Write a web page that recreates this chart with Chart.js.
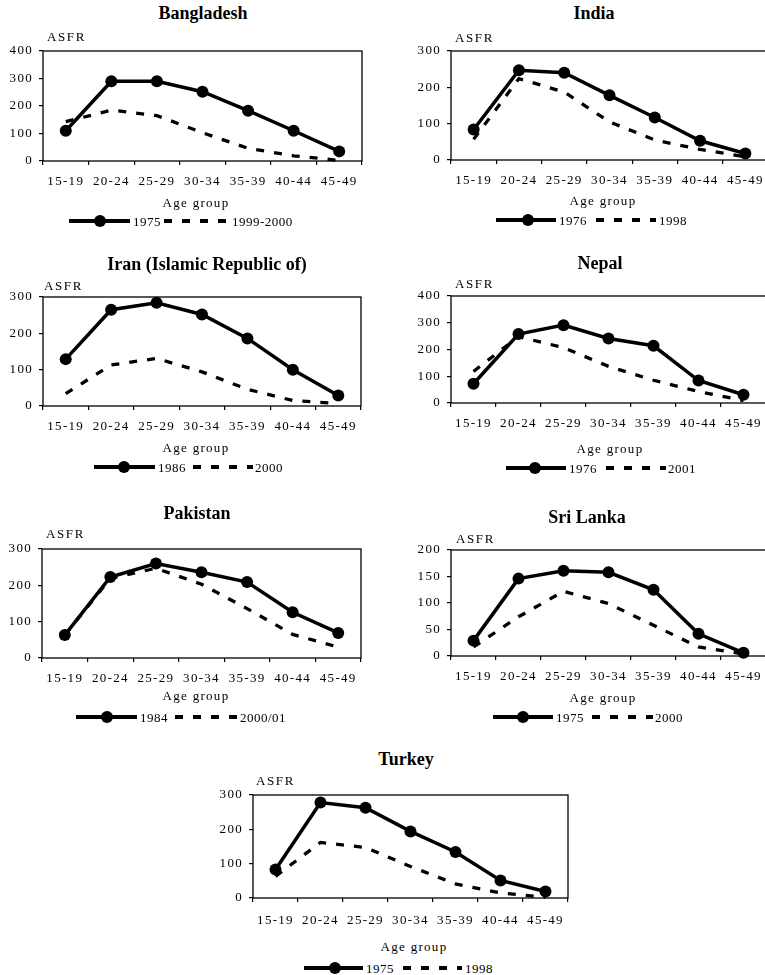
<!DOCTYPE html>
<html><head><meta charset="utf-8">
<script src="https://cdn.jsdelivr.net/npm/chart.js@4.4.0/dist/chart.umd.min.js"></script>
<style>
html,body{margin:0;padding:0;background:#fff;}
body{width:765px;height:975px;position:relative;overflow:hidden;font-family:"Liberation Serif","Times New Roman",serif;color:#000;}
.c{position:absolute;white-space:nowrap;transform:translate(-50%,-50%);line-height:1;}
.title{font-weight:bold;font-size:18px;}
.age{font-size:13px;letter-spacing:1.3px;}
.lt{position:absolute;white-space:nowrap;transform:translateY(-50%);line-height:1;font-size:13px;letter-spacing:0.5px;}
.asfr{position:absolute;white-space:nowrap;transform:translateY(-50%);line-height:1;font-size:13px;letter-spacing:1.6px;}
.solid{position:absolute;height:4px;background:#000;transform:translateY(-50%);}
.dot{position:absolute;width:12px;height:12px;border-radius:50%;background:#000;transform:translate(-50%,-50%);}
.dash{position:absolute;height:4px;background:repeating-linear-gradient(to right,#000 0 8px,transparent 8px 18px);transform:translateY(-50%);}
canvas{position:absolute;}
</style>
</head>
<body>
<script>
// ---- data ----
const categories = ['15-19','20-24','25-29','30-34','35-39','40-44','45-49'];

const bangladesh1975 = [110, 290, 290, 252, 183, 110, 35];
const bangladesh1999 = [143, 185, 165, 103, 46, 19, 2];

const india1976 = [84, 247, 240, 178, 117, 53, 18];
const india1998 = [57, 224, 187, 105, 55, 29, 9];

const iran1986 = [129, 265, 284, 252, 186, 100, 29];
const iran2000 = [34, 113, 131, 94, 46, 15, 7];

const nepal1976 = [72, 258, 291, 241, 214, 84, 31];
const nepal2001 = [118, 248, 207, 137, 85, 43, 9];

const pakistan1984 = [63, 223, 260, 236, 209, 126, 69];
const pakistan2000 = [63, 219, 247, 203, 136, 65, 30];

const srilanka1975 = [29, 146, 161, 158, 125, 42, 6];
const srilanka2000 = [17, 74, 122, 99, 58, 17, 4];

const turkey1975 = [83, 278, 263, 194, 134, 51, 19];
const turkey1998 = [63, 162, 147, 92, 41, 15, 2];

const yTicks300 = [0, 100, 200, 300];
const yTicks400 = [0, 100, 200, 300, 400];
const yTicks200 = [0, 50, 100, 150, 200];

// ---- layout ----
const panels = [
  {title:'Bangladesh', yearA:'1975', yearB:'1999-2000', a:bangladesh1975, b:bangladesh1999, ticks:yTicks400,
   L:43,R:362,T:51,B:161, tx:203,ty:13, ax:47,ay:36, gx:196,gy:202, ly:221, s0:69,s1:130,dot:100,ta:133,d0:164,d1:228,tb:232, lp:9},
  {title:'India', yearA:'1976', yearB:'1998', a:india1976, b:india1998, ticks:yTicks300,
   L:451,R:768,T:51,B:160, tx:594,ty:13, ax:455,ay:37, gx:603,gy:200, ly:220, s0:496,s1:556,dot:528,ta:559,d0:596,d1:656,tb:659, lp:9},
  {title:'Iran (Islamic Republic of)', yearA:'1986', yearB:'2000', a:iran1986, b:iran2000, ticks:yTicks300,
   L:43,R:361,T:297,B:406, tx:207,ty:264, ax:44,ay:285, gx:196,gy:447, ly:467, s0:94,s1:155,dot:124,ta:158,d0:193,d1:253,tb:255, lp:9},
  {title:'Nepal', yearA:'1976', yearB:'2001', a:nepal1976, b:nepal2001, ticks:yTicks400,
   L:451,R:766,T:296,B:403, tx:600,ty:263, ax:455,ay:283, gx:610,gy:448, ly:468, s0:506,s1:566,dot:535,ta:569,d0:606,d1:666,tb:668, lp:9},
  {title:'Pakistan', yearA:'1984', yearB:'2000/01', a:pakistan1984, b:pakistan2000, ticks:yTicks300,
   L:42,R:361,T:549,B:658, tx:197,ty:513, ax:46,ay:533, gx:196,gy:695, ly:717, s0:76,s1:137,dot:107,ta:140,d0:175,d1:237,tb:240, lp:9},
  {title:'Sri Lanka', yearA:'1975', yearB:'2000', a:srilanka1975, b:srilanka2000, ticks:yTicks200,
   L:451,R:766,T:550,B:656, tx:587,ty:517, ax:456,ay:538, gx:603,gy:697, ly:717, s0:493,s1:553,dot:523,ta:556,d0:592,d1:653,tb:655, lp:9},
  {title:'Turkey', yearA:'1975', yearB:'1998', a:turkey1975, b:turkey1998, ticks:yTicks300,
   L:253,R:568,T:795,B:898, tx:406,ty:759, ax:256,ay:780, gx:414,gy:946, ly:968, s0:304,s1:363,dot:335,ta:366,d0:403,d1:462,tb:465, lp:11}
];

const framePlugin = {
  id:'frame',
  beforeDraw(chart){ chart.ctx.letterSpacing = '1.3px'; },
  beforeDatasetsDraw(chart){
    const a = chart.chartArea, ctx = chart.ctx;
    ctx.save();
    ctx.strokeStyle = '#000';
    ctx.lineWidth = 1.3;
    ctx.strokeRect(a.left, a.top, a.right - a.left, a.bottom - a.top);
    ctx.restore();
  }
};

function addDiv(cls, text, styles){
  const d = document.createElement('div');
  d.className = cls;
  if (text) d.textContent = text;
  Object.assign(d.style, styles);
  document.body.appendChild(d);
  return d;
}

const tickFont = {family:'"Liberation Serif", "Times New Roman", serif', size:13};

panels.forEach(p => {
  const W = p.R - p.L + 45 + 8, H = p.B - p.T + 8 + 40;
  const c = document.createElement('canvas');
  c.width = W; c.height = H;
  c.style.left = (p.L - 45) + 'px'; c.style.top = (p.T - 8) + 'px';
  c.style.width = W + 'px'; c.style.height = H + 'px';
  document.body.appendChild(c);
  const maxV = p.ticks[p.ticks.length - 1];
  const step = p.ticks[1] - p.ticks[0];
  new Chart(c, {
    type:'line',
    data:{labels:categories, datasets:[
      {label:p.yearA, data:p.a, borderColor:'#000', backgroundColor:'#000', borderWidth:3.5,
       pointRadius:6, pointHoverRadius:6, pointBackgroundColor:'#000', pointBorderWidth:0, tension:0, clip:false},
      {label:p.yearB, data:p.b, borderColor:'#000', backgroundColor:'#000', borderWidth:3.3, borderDash:[8,10],
       pointRadius:0, pointHoverRadius:0, tension:0, clip:false}
    ]},
    options:{
      responsive:false, animation:false, events:[],
      layout:{padding:{top:8, right:8, left:0, bottom:0}},
      plugins:{legend:{display:false}, title:{display:false}, tooltip:{enabled:false}},
      scales:{
        x:{type:'category', offset:true,
           grid:{offset:true, display:true, drawOnChartArea:false, drawTicks:true, tickLength:4, color:'#000', lineWidth:1.2},
           border:{display:false},
           ticks:{color:'#000', font:tickFont, padding:p.lp, maxRotation:0, minRotation:0, autoSkip:false},
           afterFit(s){ s.height = 40; s.paddingLeft = 0; s.paddingRight = 0; }},
        y:{min:0, max:maxV,
           ticks:{stepSize:step, color:'#000', font:tickFont, padding:6},
           grid:{display:true, drawOnChartArea:false, drawTicks:true, tickLength:4, color:'#000', lineWidth:1.2},
           border:{display:false},
           afterFit(s){ s.width = 45; s.paddingTop = 0; s.paddingBottom = 0; }}
      }
    },
    plugins:[framePlugin]
  });

  addDiv('c title', p.title, {left:p.tx+'px', top:p.ty+'px'});
  addDiv('asfr', 'ASFR', {left:p.ax+'px', top:p.ay+'px'});
  addDiv('c age', 'Age group', {left:p.gx+'px', top:p.gy+'px'});
  addDiv('solid', '', {left:p.s0+'px', width:(p.s1-p.s0)+'px', top:p.ly+'px'});
  addDiv('dot', '', {left:p.dot+'px', top:p.ly+'px'});
  addDiv('lt', p.yearA, {left:p.ta+'px', top:p.ly+'px'});
  addDiv('dash', '', {left:p.d0+'px', width:(p.d1-p.d0)+'px', top:p.ly+'px'});
  addDiv('lt', p.yearB, {left:p.tb+'px', top:p.ly+'px'});
});
</script>
</body></html>
